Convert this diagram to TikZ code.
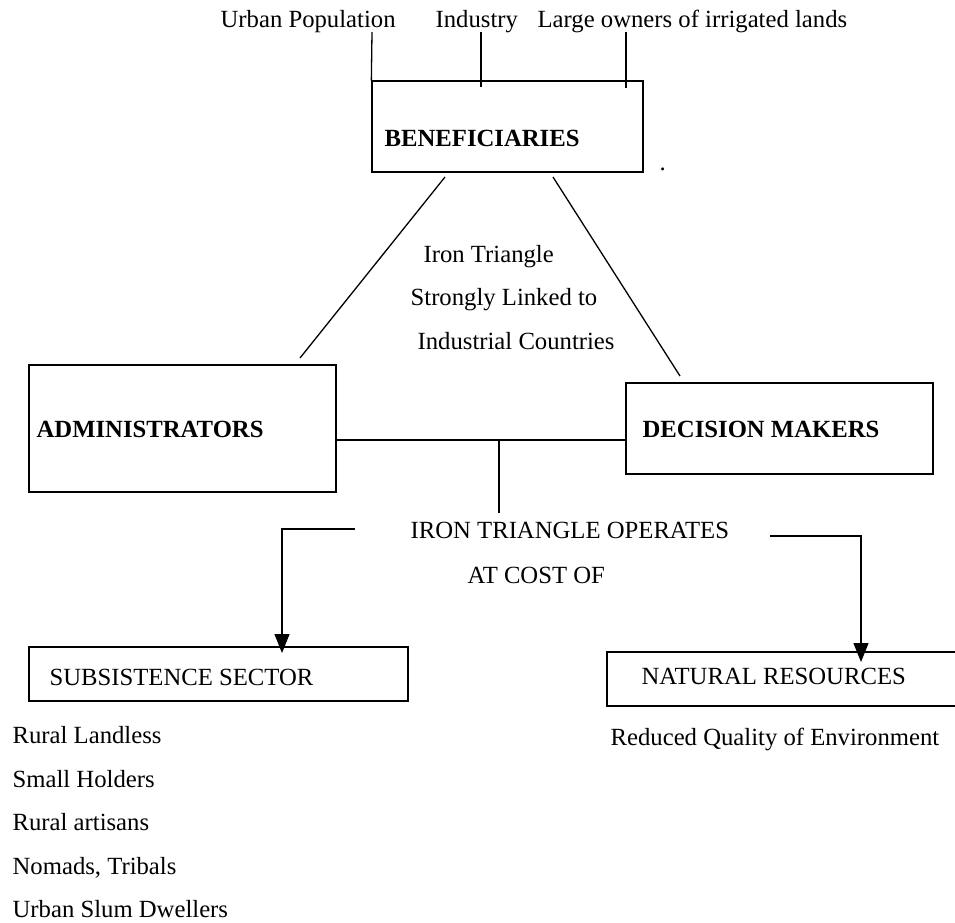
\documentclass[tikz,border=0pt]{standalone}
\usepackage{fontspec}
\setmainfont{Liberation Serif}
\usetikzlibrary{arrows.meta}

\begin{document}
\begin{tikzpicture}[x=1pt,y=-1pt,line width=1.3pt,
    txt/.style={anchor=base west,inner sep=0pt,font=\fontsize{24.7}{29}\selectfont},
    btxt/.style={txt,font=\fontsize{24.7}{29}\selectfont\bfseries},
    box/.style={draw,rectangle,inner sep=0pt},
    arr/.style={-{Triangle[width=15pt,length=19pt]}}]
  \useasboundingbox (0,0) rectangle (955,922);
  \clip (0,0) rectangle (955,922);
  % boxes
  \node[box,minimum width=271pt,minimum height=91pt] (ben) at (507.5,126.5) {};
  \node[box,minimum width=307pt,minimum height=127pt] (adm) at (182.5,428.5) {};
  \node[box,minimum width=307pt,minimum height=91pt] (dm) at (779.5,428.5) {};
  \node[box,minimum width=379pt,minimum height=54pt] (sub) at (218.5,674) {};
  \node[box,minimum width=368pt,minimum height=54pt] (nat) at (791,679) {};
  % texts
  \node[txt] (urb) at (220,27) {Urban Population};
  \node[txt] (ind) at (435,27) {Industry};
  \node[txt] (own) at (537,27) {Large owners of irrigated lands};
  \node[btxt] (benl) at (384,146) {BENEFICIARIES};
  \node[txt] (dot) at (659,170) {.};
  \node[txt] (it1) at (423,262) {Iron Triangle};
  \node[txt] (it2) at (410,305) {Strongly Linked to};
  \node[txt] (it3) at (417,349) {Industrial Countries};
  \node[btxt] (adml) at (36,437) {ADMINISTRATORS};
  \node[btxt] (dml) at (642,437) {DECISION MAKERS};
  \node[txt] (op1) at (410,538) {IRON TRIANGLE OPERATES};
  \node[txt] (op2) at (467,583) {AT COST OF};
  \node[txt] (subl) at (49,685) {SUBSISTENCE SECTOR};
  \node[txt] (natl) at (641,684) {NATURAL RESOURCES};
  \node[txt] (env) at (610,745) {Reduced Quality of Environment};
  \foreach \t [count=\i] in {Rural Landless, Small Holders, Rural artisans, {Nomads, Tribals}, Urban Slum Dwellers}
    \node[txt] (grp\i) at (12,700+43.5*\i) {\t};
  % connectors
  \coordinate (u1) at (372,32);
  \coordinate (i1) at (481,32);
  \coordinate (o1) at (626,32);
  \draw (u1) -- (ben.north west);
  \draw (i1) -- ++(0,55);
  \draw (o1) -- ++(0,56);
  \coordinate (bl) at (445,177);
  \coordinate (al) at (300,358);
  \coordinate (br) at (553,177);
  \coordinate (dr) at (680,376);
  \draw (bl) -- (al);
  \draw (br) -- (dr);
  \coordinate (mid) at (499,440);
  \coordinate (stem) at (499,513);
  \draw (adm.east |- mid) -- (dm.west |- mid);
  \draw (mid) -- (stem);
  \coordinate (la) at (355,529);
  \coordinate (subtip) at (282,653);
  \coordinate (ra) at (770,536);
  \coordinate (nattip) at (861,662);
  \draw[arr] (la) -| (subtip);
  \draw[arr] (ra) -| (nattip);
\end{tikzpicture}
\end{document}
